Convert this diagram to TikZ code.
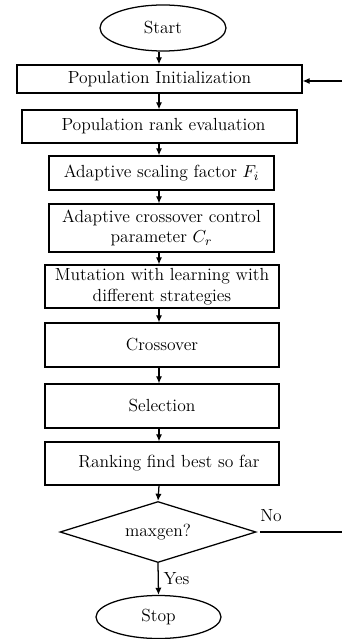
\documentclass[tikz,border=0pt]{standalone}
\usetikzlibrary{shapes.geometric,arrows.meta}
\newdimen\px \px=0.633pt
\begin{document}
\begin{tikzpicture}[x=0.633pt,y=-0.633pt,
  every node/.style={font=\fontsize{11.1}{13.2}\selectfont},
  proc/.style={draw, thick, rectangle, align=center, inner sep=1pt},
  term/.style={draw, thick, ellipse, inner sep=0pt},
  dec/.style={draw, thick, diamond, inner sep=0pt, aspect=3.2},
  arr/.style={thick, -{Latex[length=4.5pt,width=4pt]}},
  ln/.style={thick},
  lbl/.style={inner sep=0pt}]
\useasboundingbox (0,0) rectangle (342,639);
\node[term, minimum width=126\px, minimum height=46\px] (start) at (163,28) {Start};
\node[proc, minimum width=285\px, minimum height=28\px] (init) at (159.5,79) {Population Initialization};
\node[proc, minimum width=275\px, minimum height=33\px] (rank) at (159.5,126.5) {\hspace{8\px}Population rank evaluation};
\node[proc, minimum width=225\px, minimum height=34\px] (scal) at (161.5,173) {Adaptive scaling factor $F_i$};
\node[proc, minimum width=225\px, minimum height=48\px] (cr) at (161.5,228) {Adaptive crossover control\\parameter $C_r$};
\node[proc, minimum width=234\px, minimum height=43\px] (mut) at (162,286.5) {Mutation with learning with\\different strategies};
\node[proc, minimum width=234\px, minimum height=44\px] (cross) at (162,345) {Crossover};
\node[proc, minimum width=234\px, minimum height=44\px] (sel) at (162,406) {Selection};
\node[proc, minimum width=234\px, minimum height=43\px] (best) at (162,463.5) {\hspace{14\px}Ranking find best so far};
\node[dec, minimum width=196\px, minimum height=61\px] (maxg) at (158,532) {maxgen?};
\node[term, minimum width=125\px, minimum height=43\px] (stop) at (158.5,617) {Stop};
\coordinate (edgeA) at (342,81);
\coordinate (edgeB) at (342,532);
\coordinate (ax) at (159,0);
\draw[arr] (ax |- start.south) -- (ax |- init.north);
\draw[arr] (ax |- init.south) -- (ax |- rank.north);
\draw[arr] (ax |- rank.south) -- (ax |- scal.north);
\draw[arr] (ax |- scal.south) -- (ax |- cr.north);
\draw[arr] (ax |- cr.south) -- (ax |- mut.north);
\draw[arr] (ax |- mut.south) -- (ax |- cross.north);
\draw[arr] (ax |- cross.south) -- (ax |- sel.north);
\draw[arr] (ax |- sel.south) -- (ax |- best.north);
\draw[arr] (ax |- best.south) -- (maxg.north);
\draw[arr] (maxg.south) -- (stop.north) node[lbl, midway, right=3pt] {Yes};
\draw[ln] ([xshift=2pt]maxg.east) -- (edgeB);
\node[lbl] (no) at (271,516) {No};
\draw[arr] (edgeA) -- (init.east |- edgeA);
\end{tikzpicture}
\end{document}
